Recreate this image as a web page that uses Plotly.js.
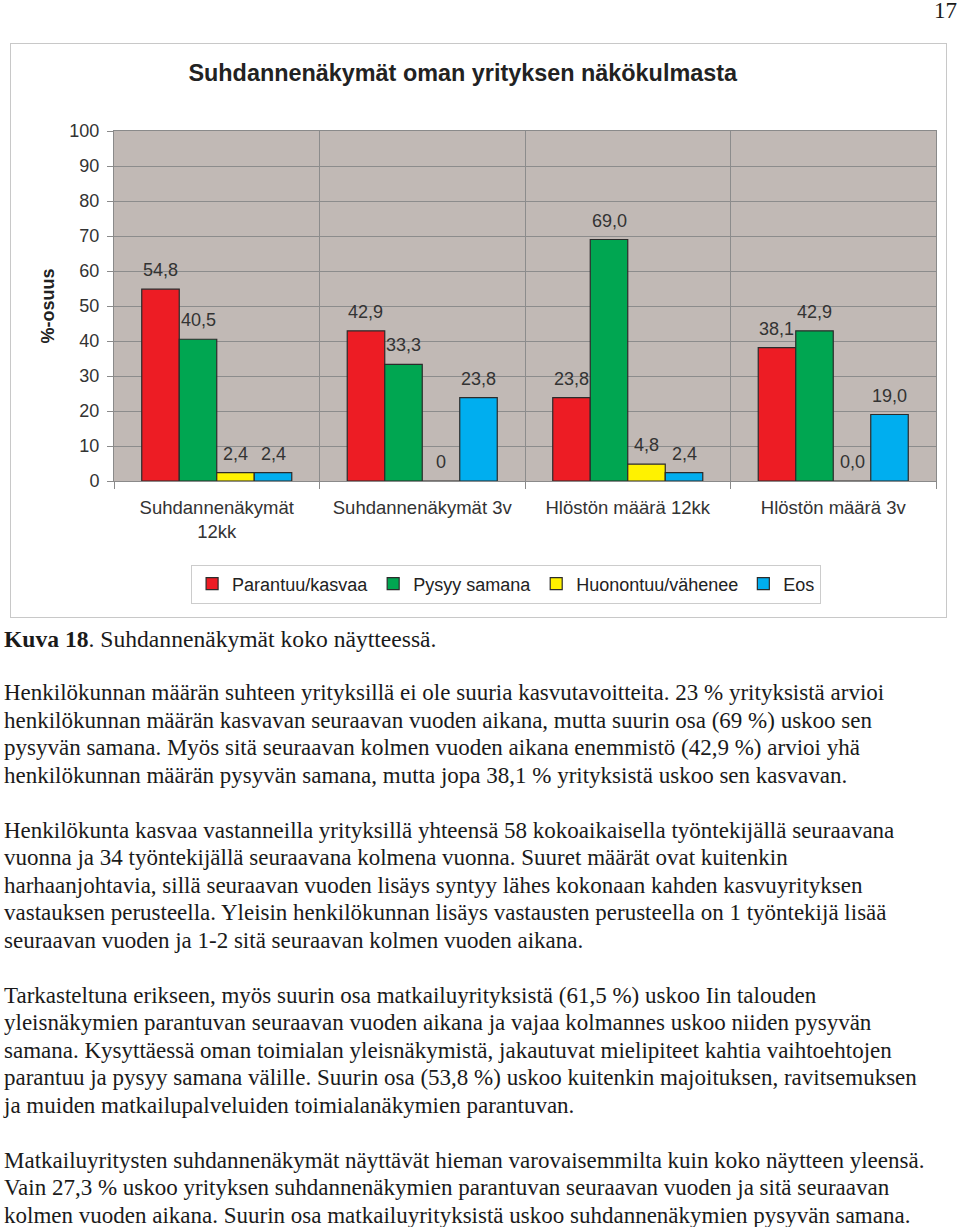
<!DOCTYPE html>
<html>
<head>
<meta charset="utf-8">
<script src="https://cdn.plot.ly/plotly-3.0.1.min.js"></script>
<style>
  html, body { margin:0; padding:0; background:#fff; }
  body { width:960px; height:1227px; position:relative; overflow:hidden; font-family:"Liberation Serif","Times New Roman",serif; color:#1a1a1a; }
  #pagenum { position:absolute; right:3px; top:0px; font-size:23px; line-height:21px; }
  #frame { position:absolute; left:10px; top:43px; width:935px; height:573px; border:1px solid #c8c8c8; }
  #chart { position:absolute; left:0; top:0; width:960px; height:620px; }
  #caption { position:absolute; left:4px; top:626px; font-size:23.6px; line-height:27.5px; white-space:nowrap; }
  #body { position:absolute; left:4px; top:679px; font-size:23px; line-height:27.5px; white-space:nowrap; }
  #body p { margin:0 0 27.5px 0; }
</style>
</head>
<body>
<div id="pagenum">17</div>
<div id="frame"></div>
<div id="chart"></div>
<div id="caption"><b>Kuva 18</b>. Suhdannenäkymät koko näytteessä.</div>
<div id="body">
<p>Henkilökunnan määrän suhteen yrityksillä ei ole suuria kasvutavoitteita. 23 % yrityksistä arvioi<br>henkilökunnan määrän kasvavan seuraavan vuoden aikana, mutta suurin osa (69 %) uskoo sen<br>pysyvän samana. Myös sitä seuraavan kolmen vuoden aikana enemmistö (42,9 %) arvioi yhä<br>henkilökunnan määrän pysyvän samana, mutta jopa 38,1 % yrityksistä uskoo sen kasvavan.</p>
<p>Henkilökunta kasvaa vastanneilla yrityksillä yhteensä 58 kokoaikaisella työntekijällä seuraavana<br>vuonna ja 34 työntekijällä seuraavana kolmena vuonna. Suuret määrät ovat kuitenkin<br>harhaanjohtavia, sillä seuraavan vuoden lisäys syntyy lähes kokonaan kahden kasvuyrityksen<br>vastauksen perusteella. Yleisin henkilökunnan lisäys vastausten perusteella on 1 työntekijä lisää<br>seuraavan vuoden ja 1-2 sitä seuraavan kolmen vuoden aikana.</p>
<p>Tarkasteltuna erikseen, myös suurin osa matkailuyrityksistä (61,5 %) uskoo Iin talouden<br>yleisnäkymien parantuvan seuraavan vuoden aikana ja vajaa kolmannes uskoo niiden pysyvän<br>samana. Kysyttäessä oman toimialan yleisnäkymistä, jakautuvat mielipiteet kahtia vaihtoehtojen<br>parantuu ja pysyy samana välille. Suurin osa (53,8 %) uskoo kuitenkin majoituksen, ravitsemuksen<br>ja muiden matkailupalveluiden toimialanäkymien parantuvan.</p>
<p>Matkailuyritysten suhdannenäkymät näyttävät hieman varovaisemmilta kuin koko näytteen yleensä.<br>Vain 27,3 % uskoo yrityksen suhdannenäkymien parantuvan seuraavan vuoden ja sitä seuraavan<br>kolmen vuoden aikana. Suurin osa matkailuyrityksistä uskoo suhdannenäkymien pysyvän samana.</p>
</div>
<script>
// ---- data ----
var categories = ["Suhdannenäkymät<br>12kk", "Suhdannenäkymät 3v", "Hlöstön määrä 12kk", "Hlöstön määrä 3v"];
var seriesNames = ["Parantuu/kasvaa", "Pysyy samana", "Huonontuu/vähenee", "Eos"];
var parantuu = [54.8, 42.9, 23.8, 38.1];
var pysyy = [40.5, 33.3, 69.0, 42.9];
var huonontuu = [2.4, 0, 4.8, 0.0];
var eos = [2.4, 23.8, 2.4, 19.0];
var parantuuLabels = ["54,8", "42,9", "23,8", "38,1"];
var pysyyLabels = ["40,5", "33,3", "69,0", "42,9"];
var huonontuuLabels = ["2,4", "0", "4,8", "0,0"];
var eosLabels = ["2,4", "23,8", "2,4", "19,0"];
var yTicks = [0, 10, 20, 30, 40, 50, 60, 70, 80, 90, 100];

// ---- styles ----
var colors = ["#ED1C24", "#00A651", "#FFF200", "#00AEEF"];
var series = [parantuu, pysyy, huonontuu, eos];
var labels = [parantuuLabels, pysyyLabels, huonontuuLabels, eosLabels];
var bargap = 0.27;
var nS = series.length;
var xIdx = categories.map(function(_, i){ return i; });
var font = "Liberation Sans, Arial, sans-serif";

var traces = series.map(function(vals, s){
  return {
    type: "bar", name: seriesNames[s], x: xIdx, y: vals,
    marker: { color: colors[s], line: { color: "#2b2b2b", width: 1.2 } },
    hoverinfo: "skip"
  };
});

var annotations = [];
var w = (1 - bargap) / nS;
series.forEach(function(vals, s){
  vals.forEach(function(v, j){
    annotations.push({
      x: j + (s - (nS - 1) / 2) * w, y: v, xref: "x", yref: "y",
      text: labels[s][j], showarrow: false, yanchor: "middle", yshift: 19,
      font: { family: font, size: 18, color: "#333" }
    });
  });
});

var minorVals = [];
for (var k = 0; k <= categories.length; k++) minorVals.push(k - 0.5);

var layout = {
  width: 960, height: 620,
  margin: { l: 114, r: 24, t: 131, b: 139 },
  paper_bgcolor: "rgba(0,0,0,0)",
  plot_bgcolor: "#C1B9B5",
  barmode: "group", bargap: bargap, bargroupgap: 0,
  font: { family: font, size: 18, color: "#333" },
  title: {
    text: "<b>Suhdannenäkymät oman yrityksen näkökulmasta</b>",
    font: { family: font, size: 23.4, color: "#222" },
    xref: "container", yref: "container", x: 0.482, xanchor: "center", y: 1 - 73/620, yanchor: "middle"
  },
  xaxis: {
    range: [-0.5, categories.length - 0.5],
    tickmode: "array", tickvals: xIdx, ticktext: categories,
    ticks: "", showgrid: false, zeroline: false,
    showline: true, linecolor: "#8a8a8a", linewidth: 1, mirror: true,
    tickfont: { family: font, size: 18.5, color: "#333" },
    ticklabelstandoff: 10,
    minor: { tickmode: "array", tickvals: minorVals, ticks: "outside", ticklen: 7, tickcolor: "#8a8a8a",
             showgrid: true, gridcolor: "#8c8c8c", gridwidth: 1 }
  },
  yaxis: {
    range: [0, 100], tickmode: "array", tickvals: yTicks,
    ticks: "outside", ticklen: 6, tickcolor: "#8a8a8a",
    showgrid: true, gridcolor: "#8c8c8c", gridwidth: 1, zeroline: false,
    showline: true, linecolor: "#8a8a8a", linewidth: 1, mirror: true,
    tickfont: { family: font, size: 18, color: "#333" },
    ticklabelstandoff: 4,
    title: { text: "<b>%-osuus</b>", font: { family: font, size: 18, color: "#222" }, standoff: 10 }
  },
  legend: {
    orientation: "h", x: 0.477, xanchor: "center", y: -(584 - 481) / 350, yanchor: "middle",
    bordercolor: "#cccccc", borderwidth: 1, bgcolor: "#ffffff",
    font: { family: font, size: 18, color: "#222" },
    traceorder: "normal", itemwidth: 30
  },
  annotations: annotations
};

Plotly.newPlot("chart", traces, layout, { staticPlot: true, displayModeBar: false });
</script>
</body>
</html>
